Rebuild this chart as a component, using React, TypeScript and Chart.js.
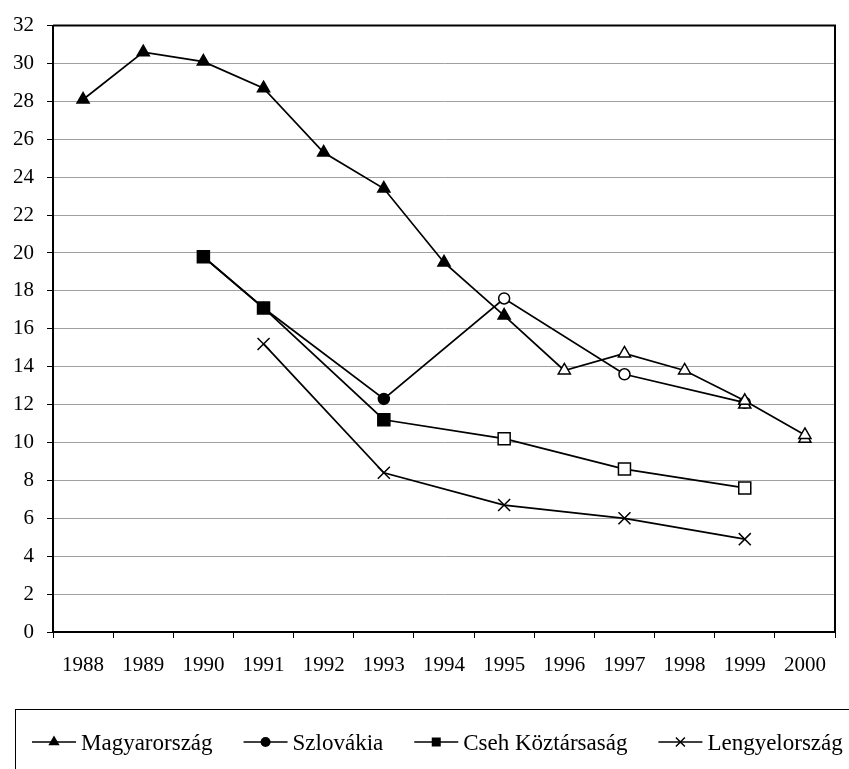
import React, { useEffect, useRef } from 'react';
import { Chart, registerables } from 'chart.js';

Chart.register(...registerables);

// ---- data ----
const years = ['1988', '1989', '1990', '1991', '1992', '1993', '1994', '1995', '1996', '1997', '1998', '1999', '2000'];

const magyarorszag = [28.1, 30.6, 30.1, 28.7, 25.3, 23.4, 19.5, 16.7, 13.8, 14.7, 13.8, 12.2, 10.4];
const magyarorszagSolid = [1, 1, 1, 1, 1, 1, 1, 1, 0, 0, 0, 0, 0];
const magyarorszagAlt = [null, null, null, null, null, null, null, null, null, null, null, 12.0, 10.2];

const szlovakia = [null, null, 19.8, 17.1, null, 12.3, null, 17.6, null, 13.6, null, 12.1, null];
const szlovakiaSolid = [0, 0, 1, 1, 0, 1, 0, 0, 0, 0, 0, 0, 0];

const cseh = [null, null, 19.8, 17.1, null, 11.2, null, 10.2, null, 8.6, null, 7.6, null];
const csehSolid = [0, 0, 1, 1, 0, 1, 0, 0, 0, 0, 0, 0, 0];

const lengyel = [null, null, null, 15.2, null, 8.4, null, 6.7, null, 6.0, null, 4.9, null];

const seriesNames = ['Magyarország', 'Szlovákia', 'Cseh Köztársaság', 'Lengyelország'];
const yMin = 0;
const yMax = 32;
const yStep = 2;

const FONT = '"Liberation Serif", "Times New Roman", serif';

const fillArr = (solid: number[]) => solid.map((s) => (s ? '#000' : '#fff'));

function drawMarker(ctx: CanvasRenderingContext2D, style: string, x: number, y: number, r: number) {
  ctx.beginPath();
  if (style === 'triangle') {
    ctx.moveTo(x, y - r);
    ctx.lineTo(x + r * 0.866, y + r * 0.5);
    ctx.lineTo(x - r * 0.866, y + r * 0.5);
    ctx.closePath();
    ctx.fill();
  } else if (style === 'circle') {
    ctx.arc(x, y, r, 0, Math.PI * 2);
    ctx.fill();
  } else if (style === 'rect') {
    ctx.rect(x - r, y - r, 2 * r, 2 * r);
    ctx.fill();
  } else if (style === 'crossRot') {
    ctx.moveTo(x - r, y - r);
    ctx.lineTo(x + r, y + r);
    ctx.moveTo(x + r, y - r);
    ctx.lineTo(x - r, y + r);
    ctx.stroke();
  }
}

const legendStyles = [
  { style: 'triangle', r: 6.5 },
  { style: 'circle', r: 5 },
  { style: 'rect', r: 4.5 },
  { style: 'crossRot', r: 4.5 },
];

const boxLegend = {
  id: 'boxLegend',
  afterDraw(chart: any) {
    const ctx: CanvasRenderingContext2D = chart.ctx;
    const area = chart.chartArea;
    ctx.save();
    // plot frame (top and right)
    ctx.strokeStyle = '#000';
    ctx.lineWidth = 2;
    ctx.beginPath();
    ctx.moveTo(area.left, area.top);
    ctx.lineTo(area.right, area.top);
    ctx.lineTo(area.right, area.bottom);
    ctx.stroke();

    // legend box
    ctx.lineWidth = 1;
    ctx.strokeRect(15.5, 709.5, 900, 100);

    ctx.font = '23px ' + FONT;
    ctx.textBaseline = 'alphabetic';
    ctx.textAlign = 'left';
    ctx.fillStyle = '#000';
    let x = 32;
    const y = 742;
    seriesNames.forEach((name, i) => {
      ctx.lineWidth = 1.5;
      ctx.beginPath();
      ctx.moveTo(x, y);
      ctx.lineTo(x + 44, y);
      ctx.stroke();
      drawMarker(ctx, legendStyles[i].style, x + 22, y, legendStyles[i].r);
      ctx.fillText(name, x + 49, 750);
      x += 49 + ctx.measureText(name).width + 31;
    });
    ctx.restore();
  },
};

export default function App() {
  const ref = useRef<HTMLCanvasElement | null>(null);

  useEffect(() => {
    if (!ref.current) return;
    const common = {
      borderColor: '#000',
      borderWidth: 1.75,
      pointBorderColor: '#000',
      pointBorderWidth: 1.5,
      pointHoverRadius: 0,
      spanGaps: true,
      tension: 0,
    };
    const chart = new Chart(ref.current, {
      type: 'line',
      data: {
        labels: years,
        datasets: [
          {
            ...common,
            label: seriesNames[0],
            data: magyarorszag,
            pointStyle: 'triangle',
            pointRadius: 7,
            pointBackgroundColor: fillArr(magyarorszagSolid),
            order: 0,
          },
          {
            ...common,
            label: seriesNames[1],
            data: szlovakia,
            pointStyle: 'circle',
            pointRadius: 5.5,
            pointBackgroundColor: fillArr(szlovakiaSolid),
            order: 3,
          },
          {
            ...common,
            label: seriesNames[2],
            data: cseh,
            pointStyle: 'rect',
            pointRadius: 8.5,
            pointBackgroundColor: fillArr(csehSolid),
            order: 2,
          },
          {
            ...common,
            label: seriesNames[3],
            data: lengyel,
            pointStyle: 'crossRot',
            pointRadius: 8.5,
            pointBackgroundColor: '#000',
            order: 4,
          },
          {
            ...common,
            label: seriesNames[0] + ' (2)',
            data: magyarorszagAlt,
            showLine: false,
            pointStyle: 'triangle',
            pointRadius: 7,
            pointBackgroundColor: '#fff',
            order: 1,
          },
        ],
      } as any,
      plugins: [boxLegend],
      options: {
        animation: false,
        responsive: false,
        events: [],
        layout: { padding: { left: 0, right: 14, top: 24, bottom: 77 } },
        plugins: { legend: { display: false }, tooltip: { enabled: false } },
        scales: {
          x: {
            type: 'category',
            offset: true,
            grid: {
              offset: true,
              drawOnChartArea: false,
              drawTicks: true,
              tickLength: 6,
              color: '#000',
              lineWidth: 1,
            },
            border: { color: '#000', width: 2 },
            ticks: {
              color: '#000',
              font: { family: FONT, size: 21 },
              padding: 15,
              maxRotation: 0,
              autoSkip: false,
            },
            afterFit: (s: any) => {
              s.height = 60;
            },
          },
          y: {
            min: yMin,
            max: yMax,
            grid: {
              color: '#a0a0a0',
              lineWidth: 1,
              tickColor: '#000',
              tickLength: 6,
            },
            border: { color: '#000', width: 2 },
            ticks: {
              stepSize: yStep,
              color: '#000',
              font: { family: FONT, size: 21 },
              padding: 13,
            },
            afterFit: (s: any) => {
              s.width = 53;
            },
          },
        },
      } as any,
    });
    return () => chart.destroy();
  }, []);

  return (
    <div style={{ position: 'absolute', left: 0, top: 0, width: 849, height: 769, background: '#fff' }}>
      <canvas ref={ref} width={849} height={769} style={{ width: 849, height: 769 }} />
    </div>
  );
}
